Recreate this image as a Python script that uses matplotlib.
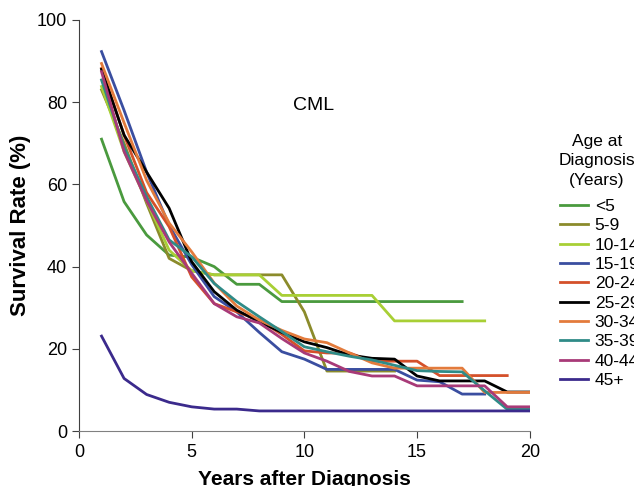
import matplotlib
matplotlib.use("Agg")
import matplotlib.pyplot as plt

plt.rcParams['font.family'] = ['Liberation Sans', 'DejaVu Sans']

years = list(range(1, 21))

ages = ['<5', '5-9', '10-14', '15-19', '20-24', '25-29', '30-34', '35-39', '40-44', '45+']
colors = ['#4a9a3e', '#8b8b2b', '#a8cf35', '#3a4ea0', '#d4502a',
          '#000000', '#e37b3c', '#2f8b87', '#a83a78', '#3b2a8c']

# survival (%) by year after diagnosis; shorter lists stop where follow-up ends
surv_lt5 = [71, 55.8, 47.7, 42.8, 42.3, 40, 35.7, 35.7, 31.5, 31.5, 31.5, 31.5, 31.5, 31.5, 31.5, 31.5, 31.5]
surv_5_9 = [83, 70, 55.4, 42, 39, 38, 38, 38, 38, 29, 14.6, 14.6, 14.6, 14.6]
surv_10_14 = [83.8, 68, 56, 44, 39, 38, 38, 38, 33, 33, 33, 33, 33, 26.8, 26.8, 26.8, 26.8, 26.8]
surv_15_19 = [92.3, 78, 63, 50, 40.5, 32.7, 29, 24, 19.3, 17.5, 15, 15, 15, 15, 12.4, 12, 9, 9]
surv_20_24 = [88.2, 72, 58, 49.7, 37.5, 31, 29, 27, 23.5, 19.5, 19, 19, 17, 17, 17, 13.5, 13.5, 13.5, 13.5]
surv_25_29 = [88, 72, 63, 54.2, 41.2, 33.9, 29.4, 26.6, 24, 21.7, 20.3, 18.5, 17.7, 17.5, 13.4, 12.2, 12.2, 12.2, 9.5, 9.5]
surv_30_34 = [89.4, 75, 61, 50.6, 43.6, 36, 30.4, 27, 24.5, 22.4, 21.5, 19, 16.6, 15.3, 15.3, 15.3, 15.3, 9.4, 9.4, 9.4]
surv_35_39 = [85.4, 69, 57, 46.5, 42.4, 35.9, 31.5, 27.8, 24.2, 20.5, 19.3, 18.2, 17.3, 16, 14.7, 14.5, 14.4, 9.8, 5.3, 5.3]
surv_40_44 = [87.4, 68, 56, 46, 38.4, 31, 27.8, 26.3, 22.5, 19, 17, 14.5, 13.4, 13.4, 11, 11, 11, 11, 5.9, 5.9]
surv_45p = [23.1, 12.8, 8.9, 7, 5.9, 5.35, 5.35, 4.9, 4.9, 4.9, 4.9, 4.9, 4.9, 4.9, 4.9, 4.9, 4.9, 4.9, 4.9, 4.9]

series = [surv_lt5, surv_5_9, surv_10_14, surv_15_19, surv_20_24,
          surv_25_29, surv_30_34, surv_35_39, surv_40_44, surv_45p]

fig = plt.figure(figsize=(6.34, 4.86), dpi=100)
ax = fig.add_axes([0.1246, 0.113, 0.711, 0.846])

for label, col, vals in zip(ages, colors, series):
    ax.plot(years[:len(vals)], vals, color=col, lw=2, label=label)

ax.set_xlim(0, 20)
ax.set_ylim(0, 100)
ax.set_xticks([0, 5, 10, 15, 20])
ax.set_yticks([0, 20, 40, 60, 80, 100])
ax.tick_params(labelsize=13, length=5, width=0.8, color='#404040', pad=3.5)
ax.tick_params(axis='x', pad=4)
for side in ['top', 'right']:
    ax.spines[side].set_visible(False)
ax.spines['left'].set_color('#404040')
ax.spines['bottom'].set_color('#808080')

ax.set_ylabel('Survival Rate (%)', fontsize=16, fontweight='bold', labelpad=4)
ax.set_xlabel('Years after Diagnosis', fontsize=15, fontweight='bold', labelpad=7)

ax.text(10.4, 79.3, 'CML', fontsize=14, ha='center', va='center')

# legend heading sits above the entries, both run past the right edge
fig.text(597 / 634, 1 - 161 / 486, 'Age at\nDiagnosis\n(Years)', fontsize=12.5,
         ha='center', va='center', linespacing=1.4)
fig.legend(loc='upper left', bbox_to_anchor=(560 / 634, 1 - 199 / 486),
           frameon=False, fontsize=12.5, handlelength=1.6, handletextpad=0.4,
           labelspacing=0.24, borderpad=0, borderaxespad=0)

fig.savefig('out.png', dpi=100)
